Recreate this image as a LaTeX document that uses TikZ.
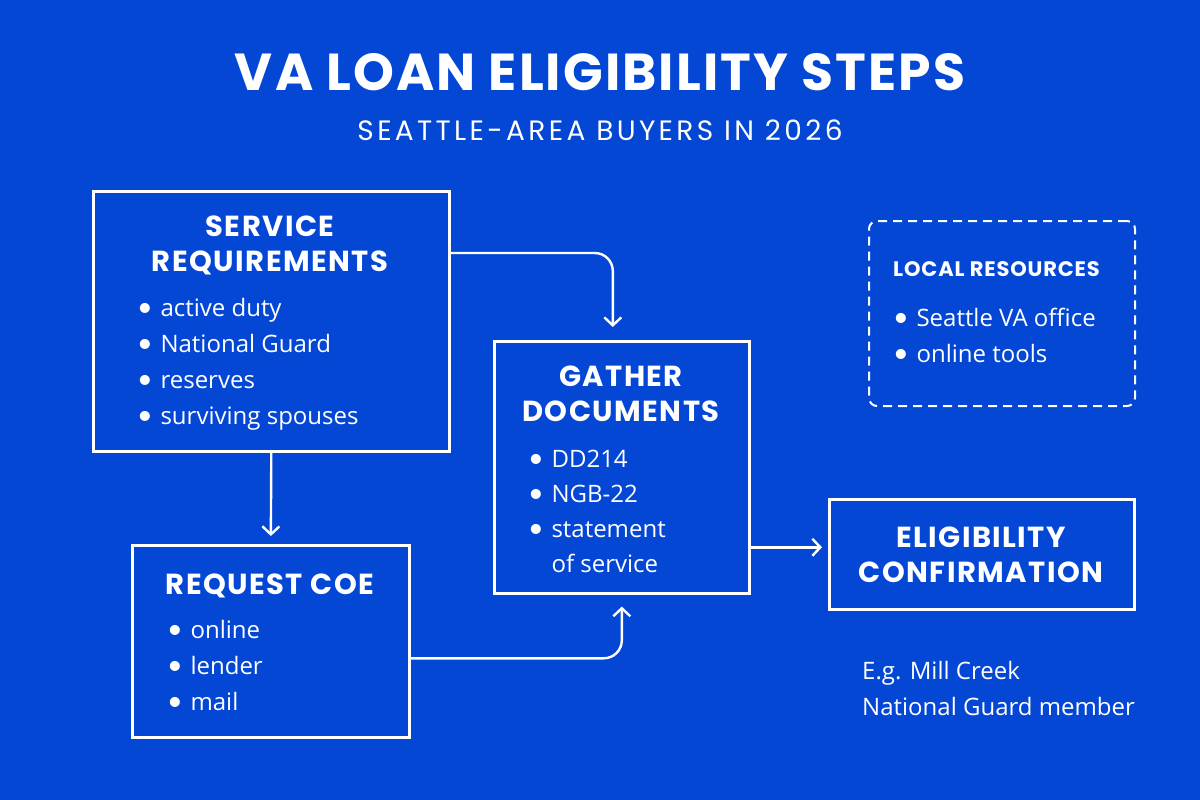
\documentclass[tikz,border=0pt]{standalone}
\usepackage{fontspec}
\setmainfont{Open Sans}
\newfontfamily\headfont{Poppins}
\newfontfamily\dotfont{Lato}
\newcommand{\dotmark}{{\dotfont\fontsize{27}{27}\selectfont\textbullet}\hspace{0.32em}}
\usetikzlibrary{positioning}
\usetikzlibrary{arrows.meta}
\usetikzlibrary{calc}
\definecolor{vablue}{RGB}{4,71,212}
\tikzset{
  stepbox/.style={draw=white, line width=2.6pt, anchor=north west, inner sep=0pt},
  head/.style={text=white, font=\headfont\bfseries\fontsize{29}{35}\selectfont\addfontfeature{LetterSpace=5}, align=center, anchor=base},
  item/.style={text=white, font=\fontsize{24}{36}\selectfont, anchor=base west, inner sep=0pt},
  flow/.style={draw=white, line width=2.4pt, rounded corners=18pt, -{Straight Barb[length=8pt,width=17pt,line width=2.4pt]}},
}
\begin{document}
\begin{tikzpicture}[x=1pt,y=-1pt]
		\fill[vablue] (0,0) rectangle (1200,800);
		
		% title
		\node[text=white, anchor=base, font=\headfont\bfseries\fontsize{52}{56}\selectfont\addfontfeature{LetterSpace=4}] (title) at (600,90) {VA LOAN ELIGIBILITY STEPS};
		\node[text=white, anchor=base, font=\headfont\fontsize{28}{30}\selectfont\addfontfeature{LetterSpace=12}] (subtitle) at (600,140) {SEATTLE-AREA BUYERS IN 2026};
		
		% boxes
		\node[stepbox, minimum width=356, minimum height=260] (service) at (92,190) {};
		\node[stepbox, minimum width=255, minimum height=252] (gather) at (493,340) {};
		\node[stepbox, minimum width=277, minimum height=192] (request) at (131,544) {};
		\node[stepbox, minimum width=305, minimum height=110] (elig) at (828,498) {};
		\node[stepbox, line width=2pt, dash pattern=on 9pt off 6pt, rounded corners=8pt, minimum width=266, minimum height=185] (local) at (868,220) {};
		
		% headings (base = last line)
		\node[head] (servicehead) at (270,271) {SERVICE\\REQUIREMENTS};
		\node[head] (gatherhead) at (621,421) {GATHER\\DOCUMENTS};
		\node[head] (requesthead) at (270,594) {REQUEST COE};
		\node[head] (eligtext) at (981,582) {ELIGIBILITY\\CONFIRMATION};
		\node[text=white, anchor=base west, inner sep=0pt, font=\headfont\bfseries\fontsize{21}{24}\selectfont\addfontfeature{LetterSpace=4}] (localhead) at (893,276) {LOCAL RESOURCES};
		
		% bullets
		\foreach \t [count=\i] in {active duty, National Guard, reserves, surviving spouses}
		  \node[item] (svc\i) at (137,280+36*\i) {\dotmark\t};
		\foreach \t [count=\i] in {DD214, NGB-22, statement}
		  \node[item] (doc\i) at (528,432+35*\i) {\dotmark\t};
		\node[item] (doc4) at (528,572) {\phantom{\dotmark}of service};
		\foreach \t [count=\i] in {online, lender, mail}
		  \node[item] (coe\i) at (167,602+36*\i) {\dotmark\t};
		\foreach \t [count=\i] in {Seattle VA office, online tools}
		  \node[item] (res\i) at (893,290+36*\i) {\dotmark\t};
		
		% example note
		\node[item] (note1) at (862,679) {E.g. Mill Creek};
		\node[item] (note2) at (862,715) {National Guard member};
		
		% connectors
		\draw[flow, shorten >=13pt] ($(service.north east)+(0,63)$) -| ($(gather.north)+(-9,0)$);
		\draw[flow, shorten >=8pt] (service.south) -- (request.north);
		\draw[flow, shorten >=12pt] ($(request.east)+(0,17)$) -| (gather.south);
		\draw[flow, shorten >=6pt] ($(gather.east)+(0,80)$) -- ($(elig.west)+(0,-7)$);
	\end{tikzpicture}
\end{document}
